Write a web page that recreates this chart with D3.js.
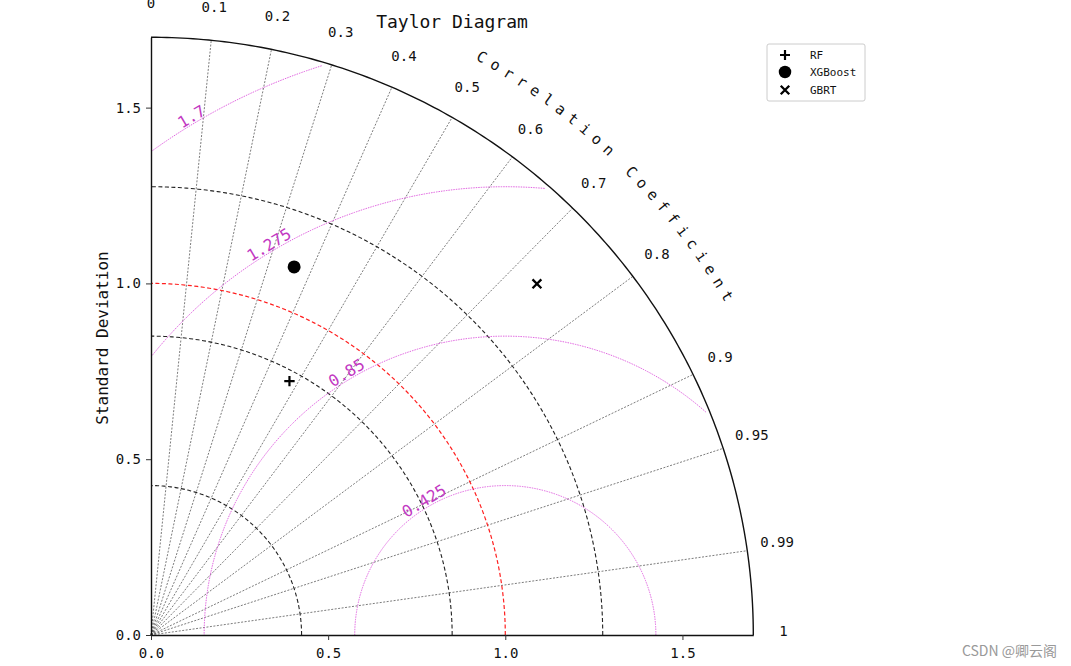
<!DOCTYPE html>
<html><head><meta charset="utf-8">
<script src="https://cdn.jsdelivr.net/npm/d3@7"></script>
<style>
body{margin:0;background:#fff;}
svg text{font-family:"DejaVu Sans Mono","Liberation Mono",monospace;}
</style>
</head><body>
<svg id="c" width="1071" height="666"></svg>
<script>
// ---- data ----
const models = ["RF", "XGBoost", "GBRT"];
const stdDevs = [0.821, 1.122, 1.478];
const correlations = [0.476, 0.360, 0.737];
const markerShapes = ["plus", "circle", "cross"];
const refStd = 1.0;
const maxStd = 1.7;
const stdTicks = [0, 0.5, 1.0, 1.5];
const stdGrid = [0.425, 0.85, 1.275];
const rmsLevels = [0.425, 0.85, 1.275, 1.7];
const corrTicks = [0, 0.1, 0.2, 0.3, 0.4, 0.5, 0.6, 0.7, 0.8, 0.9, 0.95, 0.99, 1];
const corrLabelText = "Correlation Coefficient";
const titleText = "Taylor Diagram";
const yLabelText = "Standard Deviation";

// ---- setup ----
const svg = d3.select("#c");
const x = d3.scaleLinear().domain([0, maxStd]).range([151, 753.3]);
const y = d3.scaleLinear().domain([0, maxStd]).range([635, 37.3]);
const P = (r, th) => [x(r * Math.cos(th)), y(r * Math.sin(th))];
const line = d3.line();
const deg = Math.PI / 180;

function arcPts(r) {
  return d3.range(0, 90.01, 0.5).map(a => P(r, a * deg));
}

// correlation lines
const gCorr = svg.append("g");
corrTicks.filter(c => c > 0 && c < 1).forEach(c => {
  const th = Math.acos(c);
  gCorr.append("path").attr("d", line([P(0, th), P(maxStd, th)]))
    .attr("fill", "none").attr("stroke", "#444").attr("stroke-width", 0.7)
    .attr("stroke-dasharray", "2,1.5");
});

// std grid arcs
stdGrid.forEach(s => {
  svg.append("path").attr("d", line(arcPts(s)))
    .attr("fill", "none").attr("stroke", "#222").attr("stroke-width", 1.1)
    .attr("stroke-dasharray", "4,2.5");
});
// reference arc
svg.append("path").attr("d", line(arcPts(refStd)))
  .attr("fill", "none").attr("stroke", "#ff2020").attr("stroke-width", 1.2)
  .attr("stroke-dasharray", "4,2.5");

// RMS contours
rmsLevels.forEach(rms => {
  const pts = d3.range(0, 180.01, 0.25).map(a => [1 + rms * Math.cos(a * deg), rms * Math.sin(a * deg)])
    .filter(p => p[0] >= 0 && Math.hypot(p[0], p[1]) <= maxStd - 0.01)
    .map(p => [x(p[0]), y(p[1])]);
  svg.append("path").attr("d", line(pts))
    .attr("fill", "none").attr("stroke", "#dd55dd").attr("stroke-width", 0.9)
    .attr("stroke-dasharray", "1.5,1");
  const la = 121 * deg, lr = rms + 0.02;
  const lx = x(1 + lr * Math.cos(la)), ly = y(lr * Math.sin(la));
  svg.append("text").attr("transform", `translate(${lx},${ly}) rotate(-31)`)
    .attr("text-anchor", "middle").attr("dominant-baseline", "central")
    .attr("font-size", 16).attr("fill", "#c238c2").text(String(rms));
});

// outer arc
svg.append("path").attr("d", line(arcPts(maxStd)))
  .attr("fill", "none").attr("stroke", "#111").attr("stroke-width", 1.4);

// axes
const xAxis = svg.append("g").attr("transform", `translate(0,${y(0)})`)
  .call(d3.axisBottom(x).tickValues(stdTicks).tickFormat(d3.format(".1f")).tickSize(5).tickSizeOuter(0).tickPadding(8));
const yAxis = svg.append("g").attr("transform", `translate(${x(0)},0)`)
  .call(d3.axisLeft(y).tickValues(stdTicks).tickFormat(d3.format(".1f")).tickSize(5).tickSizeOuter(0).tickPadding(5));
[xAxis, yAxis].forEach(g => {
  g.select(".domain").attr("stroke", "#111").attr("stroke-width", 1.4);
  g.selectAll(".tick line").attr("stroke", "#333");
  g.selectAll(".tick text").attr("font-size", 14).attr("fill", "#111")
    .style("font-family", '"DejaVu Sans Mono",monospace');
});

// correlation tick labels
corrTicks.forEach(c => {
  const th = Math.acos(c);
  const [lx, ly] = P(1.785, th);
  svg.append("text").attr("x", lx).attr("y", ly - 4)
    .attr("text-anchor", "middle").attr("dominant-baseline", "central")
    .attr("font-size", 14).attr("fill", "#111").text(String(c));
});

// curved correlation label
const chars = corrLabelText.split("");
chars.forEach((ch, i) => {
  const a = 60.4 - i * (60.4 - 30.66) / (chars.length - 1);
  const [lx, ly] = P(1.89, a * deg);
  svg.append("text").attr("transform", `translate(${lx},${ly}) rotate(${90 - a})`)
    .attr("text-anchor", "middle").attr("dominant-baseline", "central")
    .attr("font-size", 15).attr("fill", "#111").text(ch);
});

// title & y label
svg.append("text").attr("x", 452).attr("y", 21).attr("text-anchor", "middle")
  .attr("dominant-baseline", "central").attr("font-size", 18).attr("fill", "#111").text(titleText);
svg.append("text").attr("transform", "translate(102,338) rotate(-90)")
  .attr("text-anchor", "middle").attr("dominant-baseline", "central")
  .attr("font-size", 16).attr("fill", "#111").text(yLabelText);

// markers
function drawMarker(g, shape, cx, cy, s) {
  if (shape === "circle") {
    g.append("circle").attr("cx", cx).attr("cy", cy).attr("r", s * 1.25).attr("fill", "#000");
  } else if (shape === "plus") {
    g.append("path").attr("d", `M${cx - s},${cy}H${cx + s}M${cx},${cy - s}V${cy + s}`)
      .attr("stroke", "#000").attr("stroke-width", 2.2);
  } else {
    const k = s * 0.85;
    g.append("path").attr("d", `M${cx - k},${cy - k}L${cx + k},${cy + k}M${cx - k},${cy + k}L${cx + k},${cy - k}`)
      .attr("stroke", "#000").attr("stroke-width", 2.3);
  }
}
const gPts = svg.append("g");
models.forEach((m, i) => {
  const th = Math.acos(correlations[i]);
  const [px, py] = P(stdDevs[i], th);
  drawMarker(gPts, markerShapes[i], px, py, 5.2);
});

// legend
const lg = svg.append("g");
lg.append("rect").attr("x", 767).attr("y", 44).attr("width", 98).attr("height", 57)
  .attr("rx", 2).attr("fill", "#fff").attr("stroke", "#ccc").attr("stroke-width", 1);
models.forEach((m, i) => {
  const ly = [55, 72, 90][i];
  drawMarker(lg, markerShapes[i], 785, ly, 5);
  lg.append("text").attr("x", 810).attr("y", ly).attr("dominant-baseline", "central")
    .attr("font-size", 11).attr("fill", "#111").text(m);
});

// watermark
svg.append("text").attr("x", 1057).attr("y", 650).attr("text-anchor", "end")
  .attr("dominant-baseline", "central").attr("font-size", 14).attr("fill", "#999")
  .style("font-family", '"Noto Sans CJK SC",sans-serif').text("CSDN @卿云阁");
</script>
</body></html>
